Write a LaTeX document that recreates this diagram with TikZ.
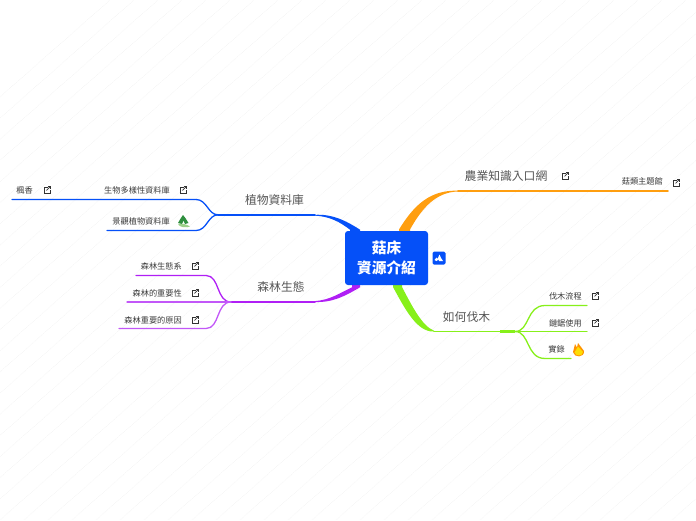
\documentclass[tikz,border=0pt]{standalone}
\usepackage{fontspec}
\setmainfont{Noto Sans CJK TC}
\definecolor{cblue}{HTML}{0550F8}
\definecolor{corange}{HTML}{FF9E0F}
\definecolor{cgreen}{HTML}{87F01A}
\definecolor{cpurple}{HTML}{B01FF5}
\definecolor{csoft}{HTML}{C257F8}
\definecolor{ctext}{HTML}{3C3C3C}
\definecolor{ctopic}{HTML}{555555}
\definecolor{ctree}{HTML}{2F8F3F}
\definecolor{cleaf}{HTML}{9BD08A}
\tikzset{
  sub/.style={inner sep=0pt,text=ctext,font=\fontsize{8.2}{9}\selectfont,anchor=east},
  topic/.style={inner sep=0pt,text=ctopic,font=\fontsize{11.8}{13}\selectfont},
  wire/.style={line width=1.3pt,line cap=round},
  mainwire/.style={line width=1.8pt,line cap=round},
  linkicon/.pic={
    \draw[line width=.7pt,black!80] (1,-3) -- (-3,-3) -- (-3,3) -- (3,3) -- (3,0);
    \draw[line width=.7pt,black!80] (-.5,.5) -- (3,-3.2);
    \draw[line width=.7pt,black!80] (.8,-3.2) -- (3.2,-3.2) -- (3.2,-.8);
  }
}
\begin{document}
\begin{tikzpicture}[x=1pt,y=-1pt]
\useasboundingbox (0,0) rectangle (696,520);
\fill[white] (0,0) rectangle (696,520);
\foreach \k in {-20,...,60} {
  \draw[black!12,line width=.3pt,densely dotted] ({\k*24},520) -- ({\k*24+590},0);
}
% anchors
\coordinate (bj) at (315,214.8);
\coordinate (bk) at (218,214.8);
\coordinate (bj1) at (196,199.5);
\coordinate (bj1e) at (12,199.5);
\coordinate (bj2) at (196,230.5);
\coordinate (bj2e) at (107,230.5);
\coordinate (pj) at (315,302);
\coordinate (pk) at (231,302);
\coordinate (p1) at (206,275.5);
\coordinate (p1e) at (136,275.5);
\coordinate (p2e) at (127,302);
\coordinate (p3) at (206,328.5);
\coordinate (p3e) at (119,328.5);
\coordinate (oj) at (458,190.7);
\coordinate (oe) at (668,190.7);
\coordinate (gj) at (434,331.5);
\coordinate (gk) at (515,331.5);
\coordinate (g1) at (545,305.5);
\coordinate (g1e) at (587,305.5);
\coordinate (g2e) at (587,331.5);
\coordinate (g3) at (545,358.5);
\coordinate (g3e) at (571,358.5);
% wedges
\fill[cblue] (360,229.7) .. controls (345,220) and (332,214) .. (bj) -- ++(0,.8) .. controls (330,216.5) and (340,222) .. (350,229.7) -- (350,232) -- (360,232) -- cycle;
\fill[cpurple] (360,287.3) .. controls (345,296) and (333,302.6) .. (pj) -- ++(0,-.9) .. controls (330,300) and (340,293) .. (352,287.3) -- (352,284) -- (360,284) -- cycle;
\fill[corange] (399,229.5) .. controls (414,205) and (430,189.8) .. (oj) -- ++(0,.8) .. controls (436,192) and (422,208) .. (410,229.5) -- (410,232) -- (399,232) -- cycle;
\fill[cgreen] (393,287) .. controls (405,309) and (417,332.4) .. (gj) -- ++(0,-.8) .. controls (422,326) and (412,306) .. (402,287) -- (402,284) -- (393,284) -- cycle;
% centre
\node[fill=cblue,rounded corners=3pt,minimum width=83pt,minimum height=54pt,inner sep=0pt,text=white,align=center,font=\bfseries\fontsize{14.7}{20}\selectfont] (root) at (386.5,258) {菇床\\資源介紹};
\node[fill=cblue,rounded corners=1.5pt,minimum size=13pt,inner sep=0pt] (badge) at (439,258) {};
\fill[white] (434.5,260) -- (436.5,257.5) -- (437.5,259) -- (439.5,254.5) -- (441,258) -- (443,261) -- (439,261) -- (438.5,259.5) -- (436.5,261) -- cycle;
% wires
\draw[mainwire,cblue] (bj) -- (bk);
\draw[wire,cblue] (bk) .. controls (208,214.8) and (207,199.5) .. (bj1) -- (bj1e);
\draw[wire,cblue] (bk) .. controls (208,214.8) and (207,230.5) .. (bj2) -- (bj2e);
\draw[mainwire,cpurple] (pj) -- (pk);
\draw[line width=2.1pt,cpurple] (pk) -- ++(17,0);
\draw[wire,cpurple] (pk) .. controls (216,302) and (220,275.5) .. (p1) -- (p1e);
\draw[wire,csoft] (pk) -- (p2e);
\draw[wire,csoft] (pk) .. controls (216,302) and (220,328.5) .. (p3) -- (p3e);
\draw[mainwire,corange] (oj) -- (oe);
\draw[mainwire,cgreen] (gj) -- (gk);
\draw[line width=2.1pt,cgreen] (gk) -- ++(-15,0);
\draw[wire,cgreen] (gk) .. controls (530,331.5) and (526,305.5) .. (g1) -- (g1e);
\draw[wire,cgreen] (gk) -- (g2e);
\draw[wire,cgreen] (gk) .. controls (530,331.5) and (526,358.5) .. (g3) -- (g3e);
% topics
\node[topic] (t1) at (274.5,200) {植物資料庫};
\node[topic] (t2) at (281,287) {森林生態};
\node[topic] (t3) at (506,176) {農業知識入口網};
\node[topic] (t4) at (466.5,317) {如何伐木};
% subtopics
\node[sub] (s1) at (33,190) {楓香};
\node[sub] (s2) at (170,190) {生物多樣性資料庫};
\node[sub] (s3) at (170,221) {景觀植物資料庫};
\node[sub] (s4) at (182,266) {森林生態系};
\node[sub] (s5) at (182,293) {森林的重要性};
\node[sub] (s6) at (182,320) {森林重要的原因};
\node[sub] (s7) at (663,181) {菇類主題館};
\node[sub] (s8) at (582,296) {伐木流程};
\node[sub] (s9) at (582,323) {鏈鋸使用};
\node[sub] (s10) at (565,349) {實錄};
% link icons
\foreach \p in {(47,190),(183,190),(195,266),(195,293),(195,320),(565,176),(676,183),(595,296),(595,323)}
  \pic at \p {linkicon};
% tree icon
\fill[ctree] (183,215) .. controls (185,217) and (186,219) .. (188.5,223) -- (185,224) -- (183.5,220.5) -- (182,224) -- (178,223) .. controls (180,220) and (181,217) .. cycle;
\fill[cleaf] (178,224.5) .. controls (182,223) and (186,224) .. (190,226.5) .. controls (185,228) and (181,227.5) .. cycle;
% flame icon
\fill[orange!85!yellow] (573,352) -- (575,344) -- (577,347.5) -- (578,343) -- (584,351) .. controls (584.5,358) and (574,358) .. cycle;
\fill[yellow!80!orange] (574.5,352.5) -- (578,346.5) -- (583,352) .. controls (582.5,356.5) and (576,356.5) .. cycle;
\end{tikzpicture}
\end{document}
